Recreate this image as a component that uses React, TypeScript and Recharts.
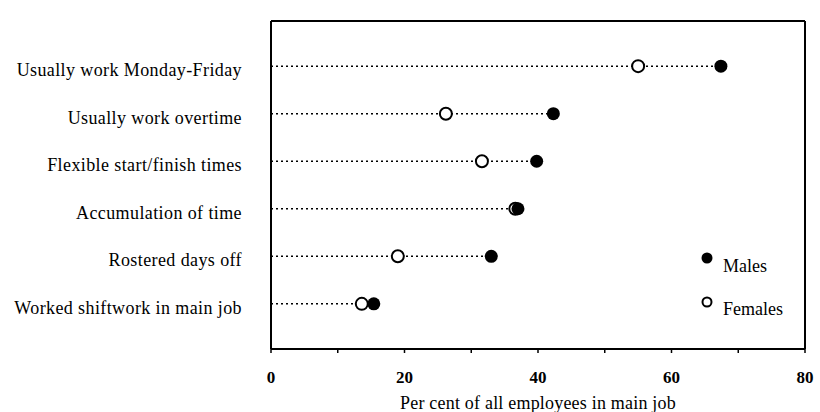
import React from "react";
import {
  ScatterChart,
  Scatter,
  XAxis,
  YAxis,
  ReferenceLine,
  Legend,
} from "recharts";

const categories = [
  "Usually work Monday-Friday",
  "Usually work overtime",
  "Flexible start/finish times",
  "Accumulation of time",
  "Rostered days off",
  "Worked shiftwork in main job",
];
const males = [67.4, 42.3, 39.8, 37.0, 33.0, 15.4];
const females = [55.0, 26.2, 31.6, 36.6, 19.0, 13.6];
const xTicks = [0, 10, 20, 30, 40, 50, 60, 70, 80];
const xLabelTicks = [0, 20, 40, 60, 80];
const rowIndex = [1, 2, 3, 4, 5, 6];
const seriesNames = ["Males", "Females"];
const axisTitle = "Per cent of all employees in main job";

const FONT = "'Liberation Serif', 'Times New Roman', serif";

const maleData = categories.map((c, i) => ({ x: males[i], y: rowIndex[i], name: c }));
const femaleData = categories.map((c, i) => ({ x: females[i], y: rowIndex[i], name: c }));

const MaleDot = (props: any) => (
  <circle cx={props.cx} cy={props.cy} r={6.5} fill="#000" />
);
const FemaleDot = (props: any) => (
  <circle cx={props.cx} cy={props.cy} r={6} fill="#fff" stroke="#000" strokeWidth={2} />
);

const YTick = (props: any) => {
  const { x, y, payload } = props;
  const label = categories[payload.value - 1] ?? "";
  return (
    <text
      x={x}
      y={y}
      dy={10}
      textAnchor="end"
      fontFamily={FONT}
      fontSize={18}
      letterSpacing={0.4}
      fill="#000"
    >
      {label}
    </text>
  );
};

const XTick = (props: any) => {
  const { x, y, payload } = props;
  const show = xLabelTicks.includes(payload.value);
  if (!show) return null;
  return (
    <text
      x={x}
      y={y}
      dy={12}
      textAnchor="middle"
      fontFamily={FONT}
      fontSize={17}
      fontWeight="bold"
      fill="#000"
    >
      {payload.value}
    </text>
  );
};

const LegendContent = () => (
  <svg width={110} height={80} style={{ overflow: "visible" }}>
    <circle cx={12} cy={13} r={5.5} fill="#000" />
    <text x={28} y={27} fontFamily={FONT} fontSize={18} fill="#000">
      {seriesNames[0]}
    </text>
    <circle cx={12} cy={57} r={4.5} fill="#fff" stroke="#000" strokeWidth={2} />
    <text x={28} y={70} fontFamily={FONT} fontSize={18} fill="#000">
      {seriesNames[1]}
    </text>
  </svg>
);

export default function App() {
  return (
    <div style={{ position: "absolute", left: 0, top: 0, background: "#fff" }}>
      <ScatterChart
        width={820}
        height={412}
        margin={{ top: 17, right: 15, bottom: 3, left: 11 }}
        style={{ fontFamily: FONT }}
      >
        <XAxis
          xAxisId="bottom"
          type="number"
          dataKey="x"
          domain={[0, 80]}
          ticks={xTicks}
          interval={0}
          orientation="bottom"
          height={60}
          tickSize={4}
          tickMargin={18}
          axisLine={{ stroke: "#000", strokeWidth: 2 }}
          tickLine={{ stroke: "#000", strokeWidth: 1.5 }}
          tick={<XTick />}
          label={{
            value: axisTitle,
            position: "insideBottom",
            offset: 0,
            fontFamily: FONT,
            fontSize: 18,
            letterSpacing: 0.2,
            fill: "#000",
          }}
        />
        <XAxis
          xAxisId="top"
          type="number"
          dataKey="x"
          domain={[0, 80]}
          ticks={xTicks}
          interval={0}
          orientation="top"
          height={4}
          tickSize={4}
          axisLine={{ stroke: "#000", strokeWidth: 2 }}
          tickLine={{ stroke: "#000", strokeWidth: 1.5 }}
          tick={false}
        />
        <YAxis
          type="number"
          dataKey="y"
          domain={[0.05, 6.95]}
          reversed
          ticks={rowIndex}
          interval={0}
          width={260}
          tickSize={0}
          tickMargin={29}
          axisLine={{ stroke: "#000", strokeWidth: 2 }}
          tickLine={false}
          tick={<YTick />}
          allowDataOverflow
        />
        <ReferenceLine
          xAxisId="bottom"
          x={80}
          stroke="#000"
          strokeWidth={2}
        />
        {categories.map((c, i) => (
          <ReferenceLine
            key={c}
            xAxisId="bottom"
            segment={[
              { x: 0, y: rowIndex[i] },
              { x: Math.max(males[i], females[i]), y: rowIndex[i] },
            ]}
            stroke="#000"
            strokeWidth={1.5}
            strokeDasharray="2 3"
          />
        ))}
        <Scatter
          name={seriesNames[1]}
          xAxisId="bottom"
          data={femaleData}
          shape={<FemaleDot />}
          isAnimationActive={false}
        />
        <Scatter
          name={seriesNames[0]}
          xAxisId="bottom"
          data={maleData}
          shape={<MaleDot />}
          isAnimationActive={false}
        />
        <Legend
          layout="vertical"
          align="center"
          verticalAlign="middle"
          content={<LegendContent />}
          wrapperStyle={{ position: "absolute", left: 695, top: 245, width: 110, height: 80 }}
        />
      </ScatterChart>
    </div>
  );
}
